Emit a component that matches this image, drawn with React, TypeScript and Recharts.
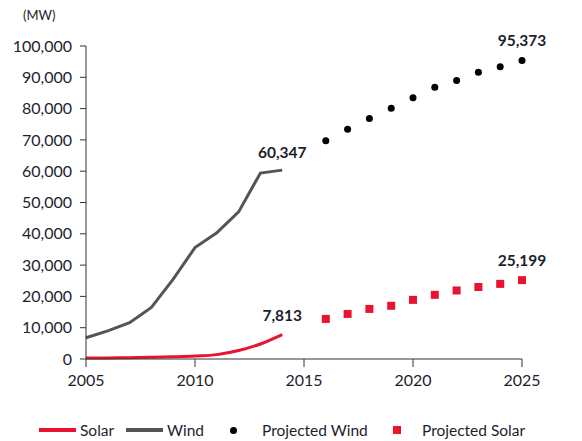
import React from 'react'
import { ComposedChart, Line, XAxis, YAxis, LabelList } from 'recharts'

const years = [2005, 2006, 2007, 2008, 2009, 2010, 2011, 2012, 2013, 2014, 2015, 2016, 2017, 2018, 2019, 2020, 2021, 2022, 2023, 2024, 2025]
const solar = [300, 350, 420, 520, 700, 950, 1400, 2700, 4800, 7813, null, null, null, null, null, null, null, null, null, null, null]
const wind = [6800, 9000, 11600, 16500, 25500, 35600, 40300, 47000, 59400, 60347, null, null, null, null, null, null, null, null, null, null, null]
const projectedWind = [null, null, null, null, null, null, null, null, null, null, null, 69700, 73400, 76800, 80100, 83500, 86800, 89000, 91600, 93400, 95373]
const projectedSolar = [null, null, null, null, null, null, null, null, null, null, null, 12800, 14400, 16000, 17000, 18900, 20500, 21900, 23000, 24000, 25199]
const yTicks = [0, 10000, 20000, 30000, 40000, 50000, 60000, 70000, 80000, 90000, 100000]
const xTicks = [2005, 2010, 2015, 2020, 2025]

const data = years.map((year, i) => ({
  year,
  solar: solar[i],
  wind: wind[i],
  projectedWind: projectedWind[i],
  projectedSolar: projectedSolar[i],
}))

const FONT = 'Lato, "Open Sans", sans-serif'
const TEXT = '#1e1e2e'
const RED = '#e8132e'
const GREY = '#555555'

const fmt = (v: number) => v.toLocaleString('en-US')

// only the last point of each series carries a value label
const endLabel = (lastIndex: number, dy: number) => (props: any) => {
  const { x, y, value, index } = props
  if (index !== lastIndex || value == null) return null
  return (
    <text x={x} y={y + dy} textAnchor="middle" fontSize={15.5} fontWeight={700} fill={TEXT} fontFamily={FONT}>
      {fmt(value)}
    </text>
  )
}

const RoundDot = (props: any) => {
  const { cx, cy, value } = props
  if (value == null || cx == null) return null
  return <circle cx={cx} cy={cy} r={3.5} fill="#000" />
}

const SquareDot = (props: any) => {
  const { cx, cy, value } = props
  if (value == null || cx == null) return null
  return <rect x={cx - 4} y={cy - 4} width={8} height={8} fill={RED} />
}

const legendItems = [
  { label: 'Solar', kind: 'line', color: RED, left: 39 },
  { label: 'Wind', kind: 'line', color: GREY, left: 126 },
  { label: 'Projected Wind', kind: 'dot', color: '#000', left: 230 },
  { label: 'Projected Solar', kind: 'square', color: RED, left: 393 },
]

export default function App() {
  return (
    <div style={{ position: 'absolute', left: 0, top: 0, width: 582, height: 441, background: '#fff', fontFamily: FONT }}>
      <div style={{ position: 'absolute', left: 23, top: 7, fontSize: 13, color: TEXT }}>(MW)</div>
      <ComposedChart width={582} height={441} data={data} margin={{ top: 46, right: 60, left: 0, bottom: 0 }}>
        <XAxis
          dataKey="year"
          type="number"
          domain={[2005, 2025]}
          ticks={xTicks}
          tickSize={8}
          tickMargin={8}
          height={82}
          stroke="#333"
          tick={{ fontSize: 16, fill: TEXT, fontFamily: FONT }}
        />
        <YAxis
          domain={[0, 100000]}
          ticks={yTicks}
          tickFormatter={fmt}
          width={86}
          tickSize={6}
          tickMargin={8}
          stroke="#333"
          tick={{ fontSize: 16, fill: TEXT, fontFamily: FONT }}
        />
        <Line type="linear" dataKey="wind" stroke={GREY} strokeWidth={3} dot={false} isAnimationActive={false}>
          <LabelList dataKey="wind" content={endLabel(9, -12)} />
        </Line>
        <Line type="monotone" dataKey="solar" stroke={RED} strokeWidth={3} dot={false} isAnimationActive={false}>
          <LabelList dataKey="solar" content={endLabel(9, -14)} />
        </Line>
        <Line dataKey="projectedWind" stroke="none" dot={<RoundDot />} activeDot={false} isAnimationActive={false}>
          <LabelList dataKey="projectedWind" content={endLabel(20, -14)} />
        </Line>
        <Line dataKey="projectedSolar" stroke="none" dot={<SquareDot />} activeDot={false} isAnimationActive={false}>
          <LabelList dataKey="projectedSolar" content={endLabel(20, -14)} />
        </Line>
      </ComposedChart>
      {legendItems.map((item) => (
        <div
          key={item.label}
          style={{ position: 'absolute', left: item.left, top: 420, height: 20, display: 'flex', alignItems: 'center', fontSize: 15.5, color: TEXT }}
        >
          {item.kind === 'line' && <span style={{ width: 37, height: 4, background: item.color, marginRight: 4 }} />}
          {item.kind === 'dot' && <span style={{ width: 7, height: 7, borderRadius: '50%', background: item.color, marginRight: 25 }} />}
          {item.kind === 'square' && <span style={{ width: 8, height: 8, background: item.color, marginRight: 21 }} />}
          {item.label}
        </div>
      ))}
    </div>
  )
}
